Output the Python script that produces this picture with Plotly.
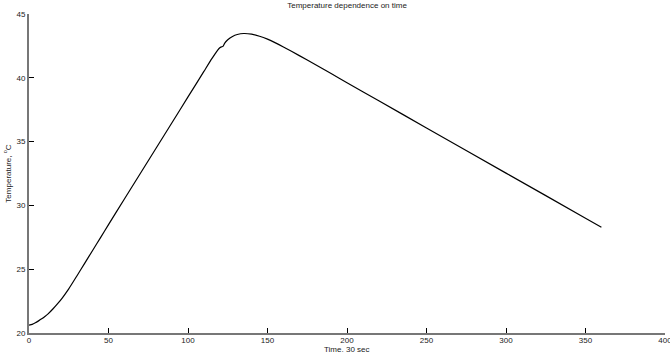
import plotly.graph_objects as go

time = [0, 2, 4, 6, 8, 10, 12, 15, 18, 21, 25, 30, 35, 40, 45, 50, 60, 70, 80, 90, 100,
        110, 115, 118, 120, 121, 122, 123, 125, 128, 131, 135, 140, 145, 150,
        155, 160, 170, 180, 190, 200, 220, 250, 300, 350, 360]
temperature = [20.62, 20.68, 20.8, 20.95, 21.11, 21.29, 21.5, 21.88, 22.3, 22.76, 23.46,
               24.45, 25.46, 26.47, 27.48, 28.49, 30.5, 32.5, 34.5, 36.5, 38.5,
               40.5, 41.5, 42.05, 42.35, 42.42, 42.46, 42.7, 42.98, 43.24, 43.39,
               43.47, 43.42, 43.26, 43.03, 42.74, 42.42, 41.74, 41.04, 40.33, 39.62, 38.2,
               36.07, 32.53, 29.0, 28.28]

x_ticks = [0, 50, 100, 150, 200, 250, 300, 350, 400]
y_ticks = [20, 25, 30, 35, 40, 45]

fig = go.Figure()
fig.add_trace(go.Scatter(x=time, y=temperature, mode="lines",
                         line=dict(color="black", width=1.2, shape="spline", smoothing=0.5),
                         showlegend=False, hoverinfo="skip"))

font = dict(family="Liberation Sans, Arial, Helvetica, sans-serif", size=8, color="#222222")

fig.update_layout(
    width=670, height=352,
    margin=dict(l=29, r=5, t=14, b=19),
    paper_bgcolor="white", plot_bgcolor="white",
    font=font,
    title=dict(text="Temperature dependence on time", x=0.518, xanchor="center",
               y=0.993, yanchor="top", font=dict(size=8)),
    annotations=[
        dict(text="Time, 30 sec", x=0.5, y=0, xref="paper", yref="paper",
             xanchor="center", yanchor="top", yshift=-10, showarrow=False,
             font=dict(size=8)),
    ],
)
fig.update_xaxes(range=[0, 400], tickvals=x_ticks, ticktext=[str(v) for v in x_ticks],
                 ticks="inside", ticklen=5, tickwidth=1, tickcolor="black",
                 showline=True, linecolor="#777777", linewidth=2,
                 showgrid=False, zeroline=False, ticklabeloverflow="allow",
                 ticklabelstandoff=-2,
                 automargin=False, tickfont=dict(size=8))
fig.update_yaxes(range=[20, 45], tickvals=y_ticks, ticktext=[str(v) for v in y_ticks],
                 ticks="inside", ticklen=5, tickwidth=1, tickcolor="black",
                 showline=True, linecolor="#777777", linewidth=2,
                 showgrid=False, zeroline=False, ticklabeloverflow="allow",
                 automargin=False,
                 title=dict(text="Temperature, <sup>o</sup>C", standoff=4, font=dict(size=8)),
                 tickfont=dict(size=8))

fig.write_html("out.html")
